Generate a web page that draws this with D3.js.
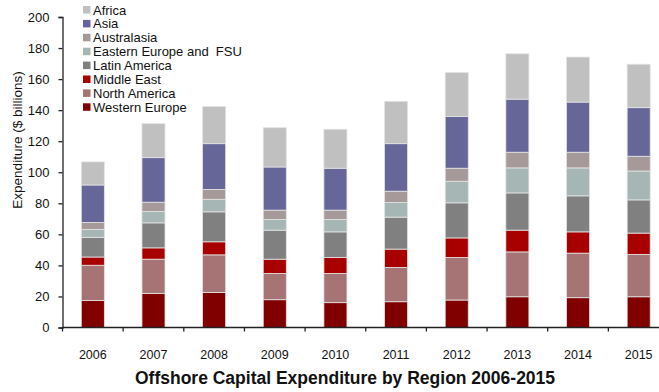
<!DOCTYPE html>
<html>
<head>
<meta charset="utf-8">
<script src="https://cdn.jsdelivr.net/npm/d3@7"></script>
<style>
  html, body { margin: 0; padding: 0; background: #fff; }
  svg { display: block; font-family: "Liberation Sans", Arial, sans-serif; }
</style>
</head>
<body>
<svg id="chart" width="659" height="392"></svg>
<script>
// Offshore capital expenditure by region, $ billions
const years = ["2006","2007","2008","2009","2010","2011","2012","2013","2014","2015"];
const westernEurope = [17.4, 22.0, 22.6, 17.9, 16.0, 16.6, 17.7, 19.8, 19.2, 19.8];
const northAmerica  = [22.7, 22.0, 24.2, 16.9, 18.8, 22.1, 27.4, 28.9, 28.7, 27.3];
const middleEast    = [5.3, 7.3, 8.4, 9.2, 10.3, 11.8, 12.6, 14.0, 13.7, 13.7];
const latinAmerica  = [12.7, 16.1, 19.3, 18.7, 16.5, 20.6, 22.6, 24.0, 23.2, 21.4];
const easternEurope = [5.1, 7.3, 8.1, 6.9, 8.0, 9.4, 13.9, 16.1, 18.0, 18.6];
const australasia   = [4.5, 6.0, 6.3, 6.0, 6.0, 7.3, 8.4, 10.1, 10.1, 9.5];
const asia          = [24.1, 28.7, 29.5, 27.8, 27.0, 30.6, 33.4, 34.2, 32.3, 31.3];
const africa        = [14.9, 21.9, 24.0, 25.3, 25.1, 27.3, 28.3, 29.2, 29.0, 28.0];
const yTicks = [0, 20, 40, 60, 80, 100, 120, 140, 160, 180, 200];

// stacking order bottom -> top
const seriesNames = ["Western Europe","North America","Middle East","Latin America",
                     "Eastern Europe and  FSU","Australasia","Asia","Africa"];
const seriesValues = [westernEurope, northAmerica, middleEast, latinAmerica,
                      easternEurope, australasia, asia, africa];
const seriesColors = ["#800000","#a67474","#a80000","#808080",
                      "#a6b6b5","#a69999","#666699","#c0c0c0"];

const rows = years.map((y, i) => {
  const r = { year: y };
  seriesNames.forEach((n, k) => r[n] = seriesValues[k][i]);
  return r;
});

const svg = d3.select("#chart");
const x0 = 62.5, x1 = 669, yTop = 17, yBot = 327.5;

const x = d3.scaleBand().domain(years).range([x0, x1])
  .paddingInner(0.62).paddingOuter(0.31);
const y = d3.scaleLinear().domain([0, 200]).range([yBot, yTop]);
const color = d3.scaleOrdinal().domain(seriesNames).range(seriesColors);

const stacked = d3.stack().keys(seriesNames)(rows);

// bars
svg.append("g").selectAll("g").data(stacked).join("g")
  .attr("fill", d => color(d.key))
  .selectAll("rect").data(d => d).join("rect")
  .attr("x", d => x(d.data.year))
  .attr("width", x.bandwidth())
  .attr("y", d => y(d[1]))
  .attr("height", d => y(d[0]) - y(d[1]))
  .attr("stroke", "#e4e4e4")
  .attr("stroke-width", 0.8);

// y axis
const yAxis = d3.axisLeft(y).tickValues(yTicks).tickSize(4).tickPadding(9);
const gy = svg.append("g").attr("transform", `translate(${x0},0)`).call(yAxis);
gy.select(".domain").attr("stroke", "#222").attr("stroke-width", 1.3);
gy.selectAll(".tick line").attr("stroke", "#222").attr("stroke-width", 1.3);
gy.selectAll(".tick text").attr("font-size", 13).attr("fill", "#111")
  .attr("font-family", "'Liberation Sans', Arial, sans-serif");

// x axis with ticks on category boundaries
const gx = svg.append("g").attr("transform", `translate(0,${yBot})`);
gx.append("line").attr("x1", x0).attr("x2", x1).attr("y1", 0).attr("y2", 0)
  .attr("stroke", "#222").attr("stroke-width", 1.3);
const step = x.step();
const bounds = d3.range(years.length + 1).map(i => x0 + i * step);
gx.selectAll("line.tk").data(bounds).join("line").attr("class", "tk")
  .attr("x1", d => d).attr("x2", d => d).attr("y1", 0).attr("y2", 4)
  .attr("stroke", "#222").attr("stroke-width", 1.3);
gx.selectAll("text").data(years).join("text")
  .attr("x", d => x(d) + x.bandwidth() / 2)
  .attr("y", 31)
  .attr("text-anchor", "middle")
  .attr("font-size", 12.5).attr("fill", "#111")
  .text(d => d);

// y axis title
svg.append("text")
  .attr("transform", "translate(22,140) rotate(-90)")
  .attr("text-anchor", "middle")
  .attr("font-size", 13.5).attr("fill", "#111")
  .text("Expenditure ($ billions)");

// chart title
svg.append("text")
  .attr("x", 345).attr("y", 384)
  .attr("text-anchor", "middle")
  .attr("font-size", 17.5).attr("font-weight", "bold").attr("fill", "#111")
  .text("Offshore Capital Expenditure by Region 2006-2015");

// legend, top series first
const legendItems = seriesNames.slice().reverse();
const lg = svg.append("g").attr("transform", "translate(83,3)");
const li = lg.selectAll("g").data(legendItems).join("g")
  .attr("transform", (d, i) => `translate(0,${i * 13.9})`);
li.append("rect").attr("width", 7.5).attr("height", 7.5).attr("y", 3)
  .attr("fill", d => color(d));
li.append("text").attr("x", 10).attr("y", 11.5)
  .attr("font-size", 13).attr("fill", "#111")
  .style("white-space", "pre")
  .text(d => d);
</script>
</body>
</html>
